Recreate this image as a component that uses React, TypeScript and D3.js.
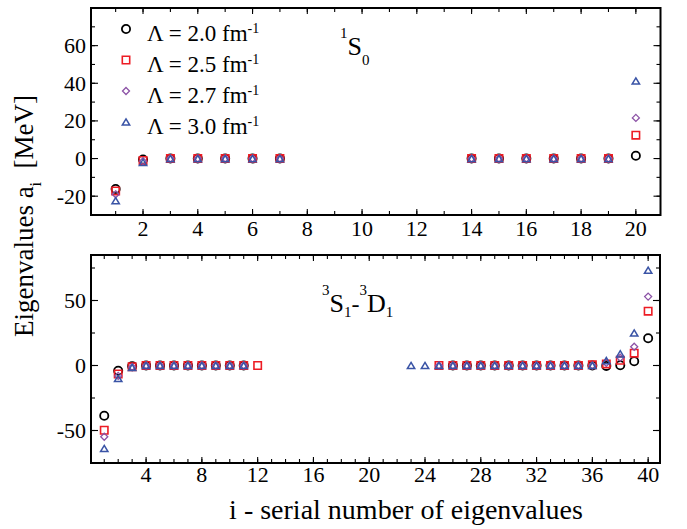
import React from 'react'
import * as d3 from 'd3'

// ---- data: 1S0 channel (top panel) ----
const s0Index = [1, 2, 3, 4, 5, 6, 7, 14, 15, 16, 17, 18, 19, 20]
const s0Lam20 = [-16.2, -0.5, 0, 0, 0, 0, 0, 0, 0, 0, 0, 0, 0, 1.5]
const s0Lam25 = [-17.2, -1.0, 0, 0, 0, 0, 0, 0, 0, 0, 0, 0, 0, 12.4]
const s0Lam27 = [-19.0, -1.4, 0, 0, 0, 0, 0, 0, 0, 0, 0, 0, 0, 21.6]
const s0Lam30 = [-22.4, -2.0, 0, 0, 0, 0, 0, 0, 0, 0, 0, 0, 0, 41.2]

// ---- data: 3S1-3D1 channel (bottom panel) ----
const sdIndex20 = [1, 2, 3, 4, 5, 6, 7, 8, 9, 10, 11, 26, 27, 28, 29, 30, 31, 32, 33, 34, 35, 36, 37, 38, 39, 40]
const sdLam20 = [-38.6, -4.0, -0.5, 0, 0, 0, 0, 0, 0, 0, 0, 0, 0, 0, 0, 0, 0, 0, 0, 0, 0, 0, -0.3, 0.2, 3.3, 21.0]
const sdIndex25 = [1, 2, 3, 4, 5, 6, 7, 8, 9, 10, 11, 12, 25, 26, 27, 28, 29, 30, 31, 32, 33, 34, 35, 36, 37, 38, 39, 40]
const sdLam25 = [-49.8, -6.5, -1.0, 0, 0, 0, 0, 0, 0, 0, 0, 0, 0, 0, 0, 0, 0, 0, 0, 0, 0, 0, 0, 0.5, 1.2, 4.0, 9.5, 41.8]
const sdIndex27 = [1, 2, 3, 4, 5, 6, 7, 8, 9, 10, 11, 25, 26, 27, 28, 29, 30, 31, 32, 33, 34, 35, 36, 37, 38, 39, 40]
const sdLam27 = [-54.8, -8.0, -1.2, 0, 0, 0, 0, 0, 0, 0, 0, 0, 0, 0, 0, 0, 0, 0, 0, 0, 0, 0, 0, 2.0, 6.0, 14.4, 53.0]
const sdIndex30 = [1, 2, 3, 4, 5, 6, 7, 8, 9, 10, 11, 23, 24, 25, 26, 27, 28, 29, 30, 31, 32, 33, 34, 35, 36, 37, 38, 39, 40]
const sdLam30 = [-63.8, -10.0, -1.5, 0, 0, 0, 0, 0, 0, 0, 0, 0, 0, 0, 0, 0, 0, 0, 0, 0, 0, 0, 0, 0, 0, 3.8, 9.0, 25.0, 73.3]

// ---- ticks ----
const topXTicks = [2, 4, 6, 8, 10, 12, 14, 16, 18, 20]
const topXMinor = d3.range(1, 21)
const topYTicks = [-20, 0, 20, 40, 60]
const topYMinor = d3.range(-20, 80, 10)
const botXTicks = [4, 8, 12, 16, 20, 24, 28, 32, 36, 40]
const botXMinor = d3.range(1, 41)
const botYTicks = [-50, 0, 50]
const botYMinor = d3.range(-50, 100, 25)

const lambdas = ['2.0', '2.5', '2.7', '3.0']
const shapes = ['circle', 'square', 'diamond', 'triangle']
const colors = ['#000000', '#ed1c24', '#8c52a6', '#3a54a6']
const strokes = [1.8, 1.6, 1.3, 1.5]

const serif = { fontFamily: 'Liberation Serif' }

function marker(shape: string, x: number, y: number) {
  if (shape === 'circle') {
    const r = 4.1
    return `M${x + r},${y}A${r},${r} 0 1,1 ${x - r},${y}A${r},${r} 0 1,1 ${x + r},${y}Z`
  }
  if (shape === 'square') {
    const h = 3.7
    return `M${x - h},${y - h}H${x + h}V${y + h}H${x - h}Z`
  }
  if (shape === 'diamond') {
    const h = 3.5
    return `M${x},${y - h}L${x + h},${y}L${x},${y + h}L${x - h},${y}Z`
  }
  const w = 3.7, hh = 3.1
  return `M${x},${y - hh}L${x + w},${y + hh}L${x - w},${y + hh}Z`
}

function Panel({ x, y, series, ticks, label }: any) {
  const [x0, x1] = x.range()
  const [y0, y1] = y.range()
  return (
    <g>
      {/* minor + major ticks, mirrored on all sides */}
      {ticks.xMinor.map((t: number) => (
        <g key={'xm' + t} stroke="#000" strokeWidth={1.1}>
          <line x1={x(t)} x2={x(t)} y1={y0} y2={y0 - 4} />
          <line x1={x(t)} x2={x(t)} y1={y1} y2={y1 + 4} />
        </g>
      ))}
      {ticks.xMajor.map((t: number) => (
        <g key={'xM' + t}>
          <line x1={x(t)} x2={x(t)} y1={y0} y2={y0 - 6} stroke="#000" strokeWidth={1.1} />
          <line x1={x(t)} x2={x(t)} y1={y1} y2={y1 + 6} stroke="#000" strokeWidth={1.1} />
          <text x={x(t)} y={y0 + ticks.xLabelDy} textAnchor="middle" fontSize={22} style={serif}>{t}</text>
        </g>
      ))}
      {ticks.yMinor.map((t: number) => (
        <g key={'ym' + t} stroke="#000" strokeWidth={1.1}>
          <line x1={x0} x2={x0 + 4} y1={y(t)} y2={y(t)} />
          <line x1={x1} x2={x1 - 4} y1={y(t)} y2={y(t)} />
        </g>
      ))}
      {ticks.yMajor.map((t: number) => (
        <g key={'yM' + t}>
          <line x1={x0} x2={x0 + 7} y1={y(t)} y2={y(t)} stroke="#000" strokeWidth={1.1} />
          <line x1={x1} x2={x1 - 7} y1={y(t)} y2={y(t)} stroke="#000" strokeWidth={1.1} />
          <text x={x0 - 5} y={y(t) + 7.5} textAnchor="end" fontSize={22} style={serif}>{t}</text>
        </g>
      ))}
      {series.map((s: any, k: number) => (
        <g key={k} fill="none" stroke={colors[k]} strokeWidth={strokes[k]}>
          {s.idx.map((i: number, j: number) => (
            <path key={i} d={marker(shapes[k], x(i), y(s.val[j]))} />
          ))}
        </g>
      ))}
      {label}
      <rect x={x0} y={y1} width={x1 - x0} height={y0 - y1} fill="none" stroke="#000" strokeWidth={2} />
    </g>
  )
}

export default function App() {
  const xTop = d3.scaleLinear().domain([0.1, 20.9]).range([91, 660.5])
  const yTop = d3.scaleLinear().domain([-30, 80]).range([215, 8])
  const xBot = d3.scaleLinear().domain([0.05, 40.85]).range([91, 660])
  const yBot = d3.scaleLinear().domain([-75, 85]).range([463, 255])

  const topSeries = [s0Lam20, s0Lam25, s0Lam27, s0Lam30].map((v) => ({ idx: s0Index, val: v }))
  const botSeries = [
    { idx: sdIndex20, val: sdLam20 },
    { idx: sdIndex25, val: sdLam25 },
    { idx: sdIndex27, val: sdLam27 },
    { idx: sdIndex30, val: sdLam30 },
  ]

  const legendY = [29, 60, 91, 122]

  return (
    <svg width={687} height={529} style={{ position: 'absolute', left: 0, top: 0, background: '#fff' }}>
      <Panel
        x={xTop}
        y={yTop}
        series={topSeries}
        ticks={{ xMajor: topXTicks, xMinor: topXMinor, yMajor: topYTicks, yMinor: topYMinor, xLabelDy: 21 }}
        label={
          <text x={340} y={55} fill="#000" style={serif}>
            <tspan fontSize={15} dy={-17}>1</tspan>
            <tspan fontSize={26} dy={17}>S</tspan>
            <tspan fontSize={15} dy={10}>0</tspan>
          </text>
        }
      />
      <Panel
        x={xBot}
        y={yBot}
        series={botSeries}
        ticks={{ xMajor: botXTicks, xMinor: botXMinor, yMajor: botYTicks, yMinor: botYMinor, xLabelDy: 19 }}
        label={
          <text x={322} y={312} fill="#000" style={serif}>
            <tspan fontSize={15} dy={-17}>3</tspan>
            <tspan fontSize={26} dy={17}>S</tspan>
            <tspan fontSize={15} dy={5}>1</tspan>
            <tspan fontSize={24} dy={-5}>-</tspan>
            <tspan fontSize={15} dy={-17}>3</tspan>
            <tspan fontSize={26} dy={17}>D</tspan>
            <tspan fontSize={15} dy={5}>1</tspan>
          </text>
        }
      />

      {/* legend */}
      {lambdas.map((l, k) => (
        <g key={l}>
          <path d={marker(shapes[k], 126, legendY[k])} fill="none" stroke={colors[k]} strokeWidth={strokes[k]} />
          <text x={147} y={legendY[k] + 12} fontSize={23} style={serif}>
            {'\u039B = ' + l + ' fm'}
            <tspan fontSize={14} dy={-8}>-1</tspan>
          </text>
        </g>
      ))}

      {/* axis titles */}
      <text x={406} y={519} textAnchor="middle" fontSize={28} style={serif}>i - serial number of eigenvalues</text>
      <text transform="translate(32.5,216) rotate(-90)" textAnchor="middle" fontSize={27} style={serif}>
        Eigenvalues a<tspan fontSize={16} dy={8}>i</tspan>
        <tspan dy={-8}>{'\u00A0 [MeV]'}</tspan>
      </text>
    </svg>
  )
}
